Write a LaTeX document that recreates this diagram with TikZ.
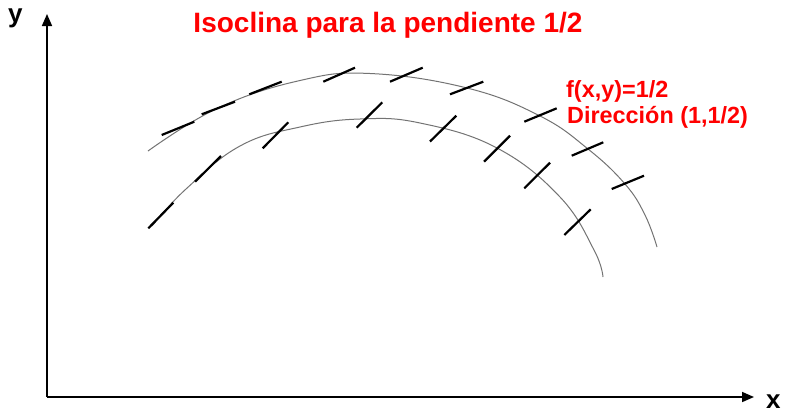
\documentclass[tikz,border=0pt]{standalone}
\usepackage{fontspec}
\setmainfont{Liberation Sans}
\usetikzlibrary{arrows.meta}
\definecolor{tred}{HTML}{FF0000}
\tikzset{
  axis/.style={line width=1.6bp, -{Triangle[length=12bp,width=10bp]}},
  isocurve/.style={line width=1bp, draw=black!55},
  tick/.style={line width=2.2bp, line cap=butt},
  redlbl/.style={text=tred, font=\fontsize{23.4bp}{27bp}\selectfont\bfseries, inner sep=0pt, anchor=base west},
  axlbl/.style={font=\fontsize{26bp}{30bp}\selectfont\bfseries, inner sep=0pt, anchor=base west},
}
\begin{document}
\begin{tikzpicture}[x=1bp,y=-1bp]
\useasboundingbox (0,0) rectangle (785,414);
% axes
\coordinate (O) at (47,397);
\coordinate (Y) at (47,14);
\coordinate (X) at (754,397);
\draw[axis] (O) -- (Y);
\draw[axis] (O) -- (X);
\node[axlbl] (ylab) at (8,22) {y};
\node[axlbl] (xlab) at (766,408) {x};
% title and labels
\node[text=tred, font=\fontsize{28bp}{32bp}\selectfont\bfseries, inner sep=0pt, anchor=base] (title) at (388,32) {Isoclina para la pendiente 1/2};
\node[redlbl] (f) at (566,97) {f(x,y)=1/2};
\node[redlbl] (dir) at (567,123) {Dirección (1,1/2)};
% curves
\draw[isocurve] plot[smooth, tension=0.7] coordinates {(148,151) (218,108) (300,80.5) (370,73.5) (467,88) (540,116) (588,149) (625,184) (645,215) (657,247)};
\draw[isocurve] plot[smooth, tension=0.7] coordinates {(152,226) (186,189) (240,146) (300,127) (360,119) (420,123) (497,148) (560,197) (594,250) (603,277)};
% outer ticks
\foreach \a/\b/\c/\d in {161.7/135/194.3/121.7, 201.7/114.3/235/101.7, 249.3/94.3/281.7/81.7, 323.3/81.7/355/67.7, 390/81.7/422.7/67.7, 450/94.3/483.3/81.7, 524.3/121.7/556.7/108.3, 571.7/155.7/603.3/142.3, 611.7/189/644/175.7}
  \draw[tick] (\a,\b) -- (\c,\d);
% inner ticks
\foreach \a/\b/\c/\d in {148.3/228.3/173.3/202.7, 195/181.7/221/156, 262.7/148.3/288.3/122.3, 356.7/127.7/382.3/102.3, 430/141.5/456.3/115.7, 484/161.7/510/135.7, 524.3/188.3/550/162.7, 564.3/235/590.7/209.3}
  \draw[tick] (\a,\b) -- (\c,\d);
\end{tikzpicture}
\end{document}
